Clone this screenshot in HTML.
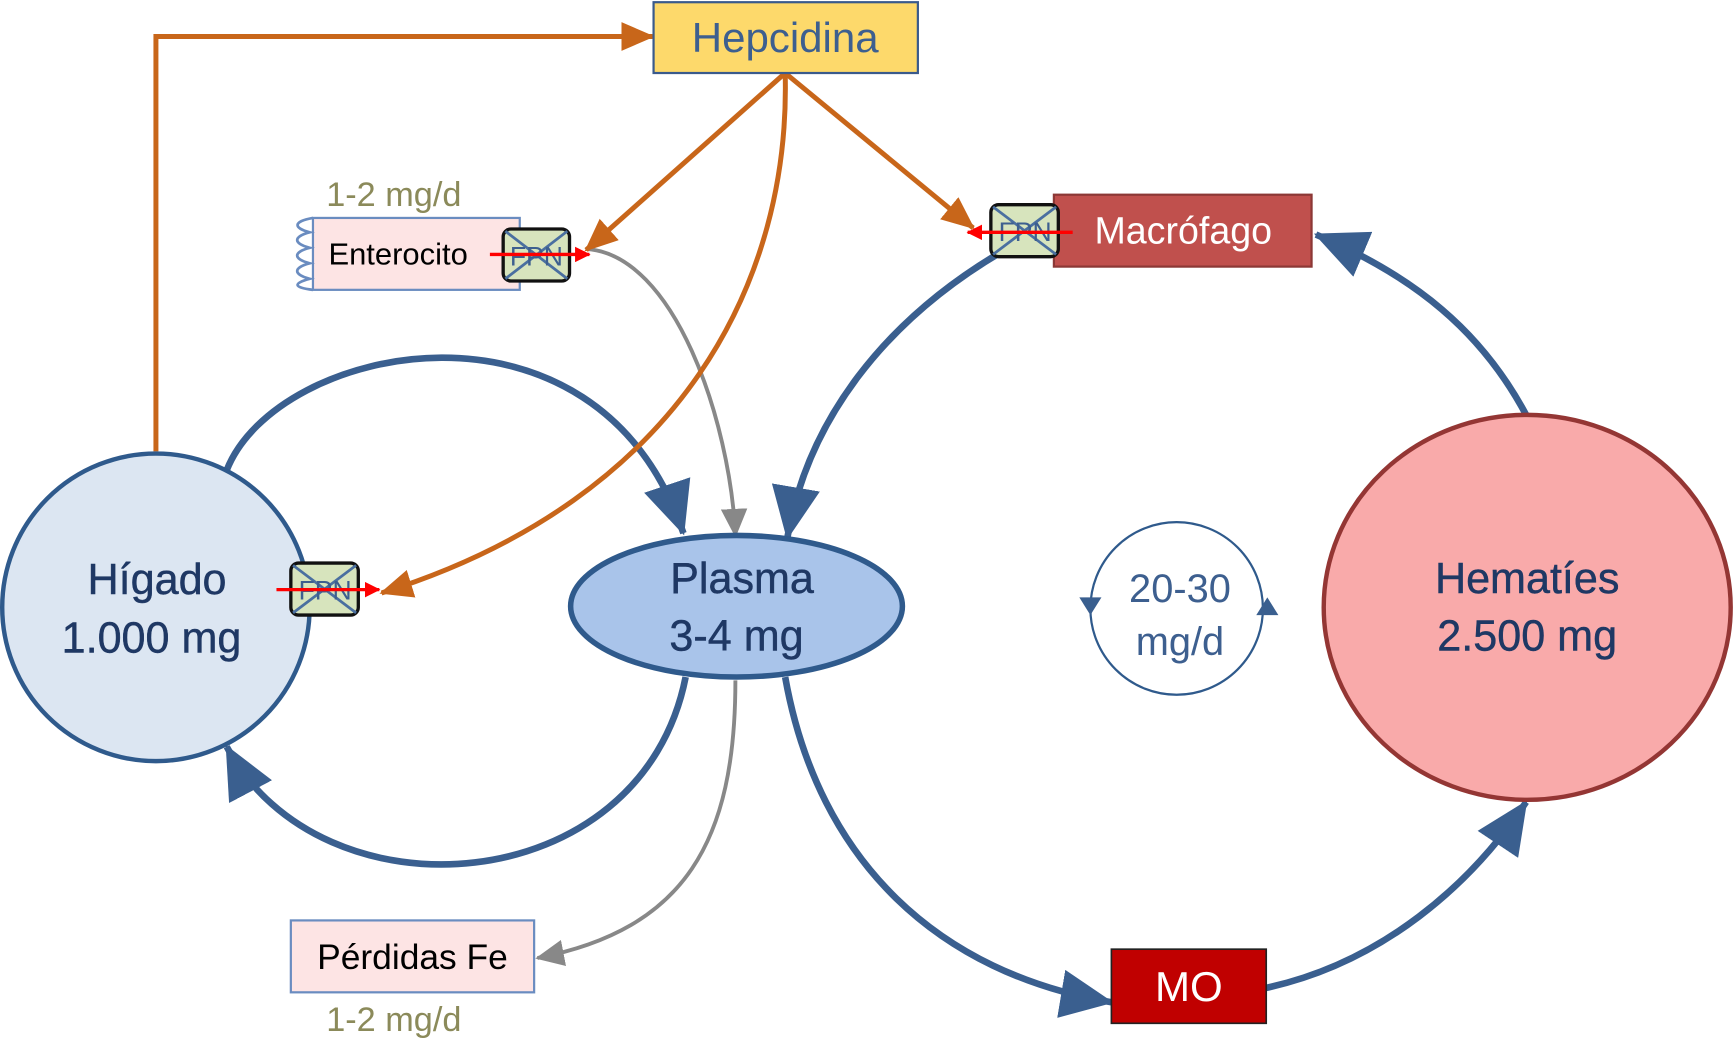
<!DOCTYPE html>
<html><head><meta charset="utf-8"><style>
html,body{margin:0;padding:0;background:#fff;}
svg{display:block}
text{font-family:"Liberation Sans",sans-serif;}
</style></head><body>
<svg width="1734" height="1041" viewBox="0 0 1568 941" preserveAspectRatio="none" xmlns="http://www.w3.org/2000/svg">
<defs>
<marker id="ob" markerUnits="userSpaceOnUse" markerWidth="30" markerHeight="26" refX="28" refY="13" orient="auto"><path d="M0,0 L30,13 L0,26 Z" fill="#c8661a"/></marker>
<marker id="gb" markerUnits="userSpaceOnUse" markerWidth="26" markerHeight="24" refX="24" refY="12" orient="auto"><path d="M0,0 L26,12 L0,24 Z" fill="#888"/></marker>
<marker id="bb" markerUnits="userSpaceOnUse" markerWidth="48" markerHeight="44" refX="46" refY="22" orient="auto"><path d="M0,0 L48,22 L0,44 Z" fill="#3a5f8f"/></marker>
<marker id="rb" markerUnits="userSpaceOnUse" markerWidth="14" markerHeight="14" refX="13" refY="7" orient="auto"><path d="M0,0 L14,7 L0,14 Z" fill="#f00"/></marker>
</defs>

<g fill="none" stroke="#3a5f8f" stroke-width="6">
<path d="M205,425 C250,310 540,250 618,482" marker-end="url(#bb)"/>
<path d="M620,612 C580,815 290,835 205,675" marker-end="url(#bb)"/>
<path d="M905,228 C800,290 730,380 712,486" marker-end="url(#bb)"/>
<path d="M1380,375 C1340,300 1280,250 1190,212" marker-end="url(#bb)"/>
<path d="M710,612 C740,780 850,880 1005,906" marker-end="url(#bb)"/>
<path d="M1145,893 C1250,870 1330,800 1380,725" marker-end="url(#bb)"/>
</g>

<g fill="none" stroke="#888" stroke-width="3.5">
<path d="M530,225 C610,230 660,380 665,484" marker-end="url(#gb)"/>
<path d="M665,615 C665,760 620,840 486,866" marker-end="url(#gb)"/>
</g>

<g fill="none" stroke="#c8661a" stroke-width="4.5">
<path d="M141,408 L141,33 L590,33" marker-end="url(#ob)"/>
<path d="M710,66 L530,226" marker-end="url(#ob)"/>
<path d="M710,66 L880,206" marker-end="url(#ob)"/>
<path d="M710,66 C715,250 620,450 345,536" marker-end="url(#ob)"/>
</g>

<rect x="591" y="2" width="239" height="64" fill="#fdd96b" stroke="#3a5a8c" stroke-width="2"/>
<text x="710" y="47" font-size="38" fill="#3d5f8f" text-anchor="middle">Hepcidina</text>

<circle cx="141" cy="549" r="139" fill="#dce6f2" stroke="#2f5a8c" stroke-width="4"/>
<text x="142" y="537" font-size="39" fill="#1f3864" text-anchor="middle" stroke="#1f3864" stroke-width="0.4">Hígado</text>
<text x="137" y="590" font-size="39" fill="#1f3864" text-anchor="middle" stroke="#1f3864" stroke-width="0.4">1.000 mg</text>

<ellipse cx="666" cy="548" rx="150" ry="64" fill="#a9c4ea" stroke="#2f5a8c" stroke-width="5"/>
<text x="671" y="536" font-size="39" fill="#1f3864" text-anchor="middle" stroke="#1f3864" stroke-width="0.4">Plasma</text>
<text x="666" y="588" font-size="39" fill="#1f3864" text-anchor="middle" stroke="#1f3864" stroke-width="0.4">3-4 mg</text>

<ellipse cx="1381" cy="549" rx="184" ry="174" fill="#f9aaaa" stroke="#943634" stroke-width="4"/>
<text x="1381" y="536" font-size="39" fill="#1f3864" text-anchor="middle" stroke="#1f3864" stroke-width="0.4">Hematíes</text>
<text x="1381" y="588" font-size="39" fill="#1f3864" text-anchor="middle" stroke="#1f3864" stroke-width="0.4">2.500 mg</text>

<circle cx="1064" cy="550" r="78" fill="none" stroke="#2f5a8c" stroke-width="2"/>
<path d="M976,540 L996,540 L986,556 Z" fill="#3a5f8f"/>
<path d="M1136,556 L1156,556 L1146,540 Z" fill="#3a5f8f"/>
<text x="1067" y="544" font-size="36" fill="#3d5f8f" text-anchor="middle">20-30</text>
<text x="1067" y="592" font-size="36" fill="#3d5f8f" text-anchor="middle">mg/d</text>

<rect x="283" y="197" width="187" height="65" fill="#fde4e4" stroke="#6a8cc0" stroke-width="2"/>
<path d="M283,197 C265,200 265,206 280,210 C265,214 265,220 280,224 C265,228 265,234 280,238 C265,242 265,248 280,252 C265,256 265,260 283,262" fill="none" stroke="#6a8cc0" stroke-width="2.5"/>
<text x="297" y="239" font-size="28" fill="#000">Enterocito</text>
<text x="295" y="186" font-size="31" fill="#8b8a5a">1-2 mg/d</text>

<rect x="455" y="207" width="60" height="47" rx="7" fill="#d7e4bd" stroke="#111" stroke-width="3"/>
<path d="M457,209 L513,252 M513,209 L457,252" stroke="#4a6fa0" stroke-width="2.5"/>
<text x="485" y="240" font-size="24" fill="#3d5f8f" text-anchor="middle">FPN</text>
<line x1="443" y1="230" x2="533" y2="230" stroke="#f00" stroke-width="3" marker-end="url(#rb)"/>

<rect x="263" y="509" width="61" height="47" rx="7" fill="#d7e4bd" stroke="#111" stroke-width="3"/>
<path d="M265,511 L322,554 M322,511 L265,554" stroke="#4a6fa0" stroke-width="2.5"/>
<text x="294" y="542" font-size="24" fill="#3d5f8f" text-anchor="middle">FPN</text>
<line x1="250" y1="533" x2="343" y2="533" stroke="#f00" stroke-width="3" marker-end="url(#rb)"/>

<rect x="953" y="176" width="233" height="65" fill="#c0504d" stroke="#8c3836" stroke-width="2"/>
<text x="1070" y="220" font-size="34" fill="#fff" text-anchor="middle">Macrófago</text>
<rect x="896" y="185" width="61" height="47" rx="7" fill="#d7e4bd" stroke="#111" stroke-width="3"/>
<path d="M898,187 L955,230 M955,187 L898,230" stroke="#4a6fa0" stroke-width="2.5"/>
<text x="927" y="218" font-size="24" fill="#3d5f8f" text-anchor="middle">FPN</text>
<line x1="970" y1="210" x2="875" y2="210" stroke="#f00" stroke-width="3" marker-end="url(#rb)"/>

<rect x="1005" y="858" width="140" height="67" fill="#c00000" stroke="#222" stroke-width="1.5"/>
<text x="1075" y="905" font-size="38" fill="#fff" text-anchor="middle">MO</text>

<rect x="263" y="832" width="220" height="65" fill="#fde4e4" stroke="#6a8cc0" stroke-width="2"/>
<text x="373" y="876" font-size="32" fill="#000" text-anchor="middle">Pérdidas Fe</text>
<text x="295" y="932" font-size="31" fill="#8b8a5a">1-2 mg/d</text>
</svg>
</body></html>
